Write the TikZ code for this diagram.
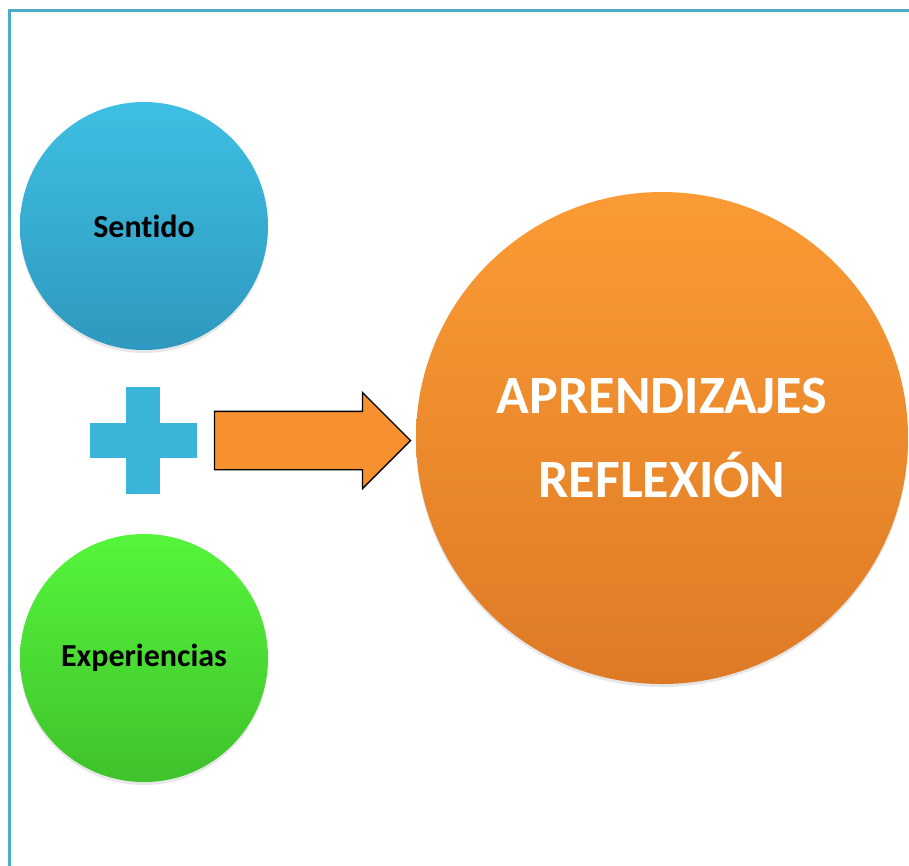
\documentclass[tikz,border=0pt]{standalone}
\usepackage{fontspec}
\setmainfont[Ligatures=NoCommon]{Carlito}
\usepackage{xcolor}
\usetikzlibrary{shapes.arrows, shadows}

\definecolor{marco}{HTML}{4BACC6}
\definecolor{azulA}{HTML}{3EBFE3}
\definecolor{azulB}{HTML}{2F98BE}
\definecolor{verdeA}{HTML}{56F53C}
\definecolor{verdeB}{HTML}{3FC22B}
\definecolor{naranjaA}{HTML}{FB9B34}
\definecolor{naranjaB}{HTML}{DE7A26}
\definecolor{flechaC}{HTML}{F7902F}
\definecolor{masC}{HTML}{3AB4D8}

\begin{document}
\begin{tikzpicture}[x=1pt, y=-1pt,
    bola/.style={circle, inner sep=0pt, drop shadow={shadow xshift=0pt, shadow yshift=-3pt, opacity=0.2}},
    barra/.style={rectangle, inner sep=0pt, fill=masC}]
    \useasboundingbox (0,0) rectangle (909,865);
    \clip (0,0) rectangle (909,865);
    \draw[line width=3pt, marco] (9.5,10) rectangle (940,900);

    \node[bola, minimum size=248pt, top color=azulA, bottom color=azulB, font=\bfseries\fontsize{32}{38}\selectfont] (S) at (144,226) {Sentido};
    \node[bola, minimum size=248pt, top color=verdeA, bottom color=verdeB, font=\bfseries\fontsize{32}{38}\selectfont] (E) at (144,658) {Experiencias};
    \node[bola, minimum size=492pt, top color=naranjaA, bottom color=naranjaB, text=white, align=center, font=\bfseries\fontsize{54}{84}\selectfont] (R) at (662,438) {APRENDIZAJES\\REFLEXIÓN};

    \node[barra, minimum width=107pt, minimum height=35pt] (M) at (143,440.5) {};
    \node[barra, minimum width=34pt, minimum height=107pt] (Mv) at (M) {};

    \node[single arrow, draw=black, line width=1.3pt, fill=flechaC, inner xsep=0pt, inner ysep=28.5pt, minimum height=196pt, minimum width=95pt, single arrow head extend=19pt, single arrow tip angle=90] (F) at (298,440.5) {};
\end{tikzpicture}
\end{document}
